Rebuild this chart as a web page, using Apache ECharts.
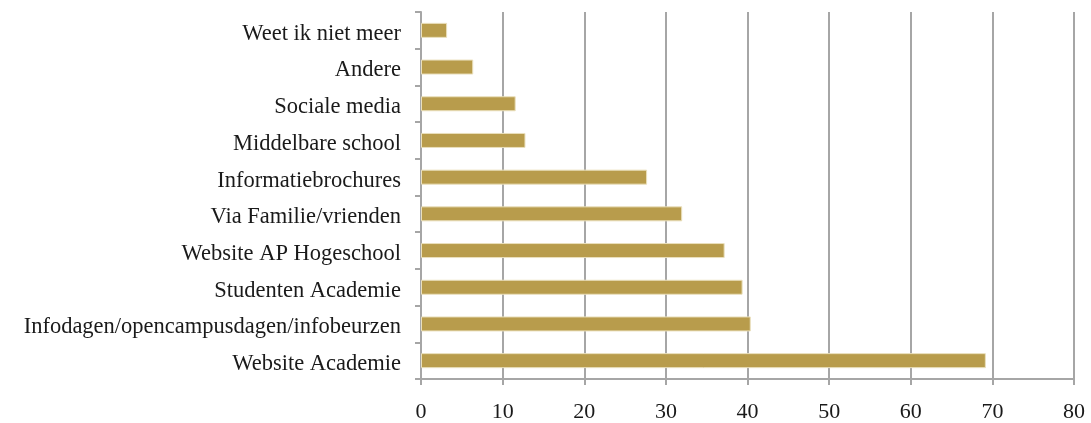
<!DOCTYPE html>
<html>
<head>
<meta charset="utf-8">
<script src="https://cdn.jsdelivr.net/npm/echarts@6/dist/echarts.min.js"></script>
<style>
  html, body { margin: 0; padding: 0; background: #fff; }
  #chart { width: 1091px; height: 423px; }
</style>
</head>
<body>
<div id="chart"></div>
<script>
// Categories listed from bottom to top of the axis
const categories = [
  'Website Academie',
  'Infodagen/opencampusdagen/infobeurzen',
  'Studenten Academie',
  'Website AP Hogeschool',
  'Via Familie/vrienden',
  'Informatiebrochures',
  'Middelbare school',
  'Sociale media',
  'Andere',
  'Weet ik niet meer'
];
const values = [69.2, 40.4, 39.4, 37.2, 32.0, 27.7, 12.8, 11.6, 6.4, 3.2];
const xTicks = [0, 10, 20, 30, 40, 50, 60, 70, 80];

const FONT = '"Liberation Serif", "DejaVu Serif", serif';
const GRID_GREY = '#a6a6a6';

const chart = echarts.init(document.getElementById('chart'), null, { renderer: 'canvas' });
chart.setOption({
  animation: false,
  backgroundColor: '#ffffff',
  grid: { left: 421, right: 17, top: 12, bottom: 44, containLabel: false, outerBoundsMode: 'none' },
  xAxis: {
    type: 'value',
    min: xTicks[0],
    max: xTicks[xTicks.length - 1],
    interval: xTicks[1] - xTicks[0],
    axisLine: { show: true, lineStyle: { color: GRID_GREY, width: 2 } },
    axisTick: { show: true, length: 6, lineStyle: { color: GRID_GREY, width: 2 } },
    splitLine: { show: true, lineStyle: { color: GRID_GREY, width: 2 } },
    axisLabel: { color: '#1a1a1a', fontFamily: FONT, fontSize: 22, margin: 22 }
  },
  yAxis: {
    type: 'category',
    data: categories,
    axisLine: { show: true, lineStyle: { color: GRID_GREY, width: 2 } },
    axisTick: { show: true, length: 6, lineStyle: { color: GRID_GREY, width: 2 } },
    splitLine: { show: false },
    axisLabel: {
      color: '#1a1a1a', fontFamily: FONT, fontSize: 22.5, margin: 20,
      verticalAlign: 'top', lineHeight: 7
    }
  },
  series: [{
    type: 'bar',
    data: values,
    barWidth: 15,
    itemStyle: { color: '#b89c4c', borderColor: '#eae0bd', borderWidth: 1 }
  }]
});
</script>
</body>
</html>
